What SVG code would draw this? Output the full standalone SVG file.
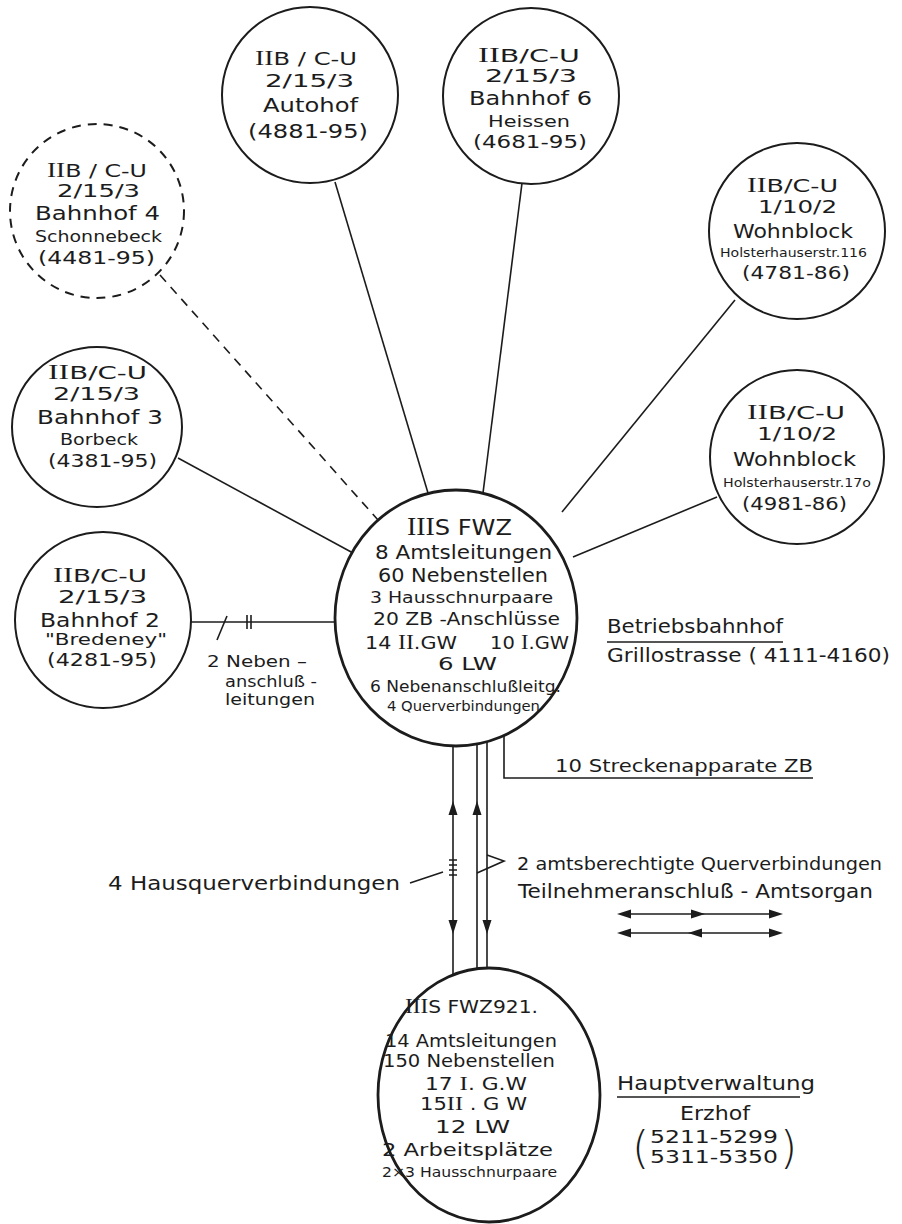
<svg xmlns="http://www.w3.org/2000/svg" width="902" height="1224" viewBox="0 0 902 1224">
<style>
text{font-family:"DejaVu Sans","Liberation Sans",sans-serif;fill:#1c1c1c;}
.r{font-family:"Liberation Serif",serif;font-size:1.15em;}
.n{fill:#fff;stroke:#1c1c1c;stroke-width:2;}
.big{fill:#fff;stroke:#1c1c1c;stroke-width:2.8;}
.ln{stroke:#1c1c1c;stroke-width:1.6;fill:none;}
.f18{font-size:17.5px;}
.f20{font-size:19px;}
.f21{font-size:20px;}
.f17{font-size:16px;}
.f16{font-size:15px;}
.f14{font-size:13px;}
</style>
<defs>
<path id="ah" d="M0,0 L-14,-4.5 L-14,4.5 Z" fill="#1c1c1c"/>
</defs>
<rect width="902" height="1224" fill="#fff"/>
<g id="connectors">
<line class="ln" x1="160" y1="275" x2="378" y2="520" stroke-dasharray="9,7"/>
<line class="ln" x1="335" y1="182" x2="428" y2="493"/>
<line class="ln" x1="522" y1="183" x2="483" y2="493"/>
<line class="ln" x1="735" y1="300" x2="562" y2="512"/>
<line class="ln" x1="717" y1="497" x2="573" y2="557"/>
<line class="ln" x1="178" y1="458" x2="353" y2="553"/>
<line class="ln" x1="191" y1="622" x2="336" y2="622"/>
<line class="ln" x1="227" y1="616" x2="217" y2="640"/>
<line class="ln" x1="247" y1="615" x2="247" y2="629"/>
<line class="ln" x1="251" y1="615" x2="251" y2="629"/>
<line class="ln" x1="453" y1="720" x2="453" y2="1000"/>
<line class="ln" x1="477" y1="720" x2="477" y2="1000"/>
<line class="ln" x1="487" y1="720" x2="487" y2="1000"/>
<path class="ln" d="M504,720 V778 H813"/>
<use href="#ah" transform="translate(453,801) rotate(-90)"/>
<use href="#ah" transform="translate(453,934) rotate(90)"/>
<use href="#ah" transform="translate(477,801) rotate(-90)"/>
<use href="#ah" transform="translate(487,934) rotate(90)"/>
<path class="ln" d="M449,860 H457 M449,865 H457 M449,870 H457 M449,875 H457"/>
<line class="ln" x1="410" y1="883" x2="443" y2="872" stroke-width="1.2"/>
<path class="ln" d="M487,855 L504,861 L477,873"/>
<line class="ln" x1="620" y1="914" x2="780" y2="914"/>
<line class="ln" x1="620" y1="933" x2="780" y2="933"/>
<use href="#ah" transform="translate(617,914) rotate(180)"/>
<use href="#ah" transform="translate(705,914)"/>
<use href="#ah" transform="translate(783,914)"/>
<use href="#ah" transform="translate(617,933) rotate(180)"/>
<use href="#ah" transform="translate(688,933) rotate(180)"/>
<use href="#ah" transform="translate(783,933)"/>
<line class="ln" x1="607" y1="642" x2="783" y2="642"/>
<line class="ln" x1="617" y1="1097" x2="800" y2="1097"/>
</g>
<g id="autohof">
<circle class="n" cx="310" cy="95" r="88"/>
<text class="f18" x="255" y="65" textLength="102" lengthAdjust="spacingAndGlyphs"><tspan class="r">II</tspan>B / C-U</text>
<text class="f18" x="265" y="87" textLength="89" lengthAdjust="spacingAndGlyphs">2/15/3</text>
<text class="f21" x="263" y="112" textLength="95" lengthAdjust="spacingAndGlyphs">Autohof</text>
<text class="f20" x="248" y="138" textLength="120" lengthAdjust="spacingAndGlyphs">(4881-95)</text>
</g>
<g id="bahnhof6">
<circle class="n" cx="531" cy="96" r="88"/>
<text class="f18" x="478" y="62" textLength="102" lengthAdjust="spacingAndGlyphs"><tspan class="r">II</tspan>B/C-U</text>
<text class="f18" x="485" y="82" textLength="92" lengthAdjust="spacingAndGlyphs">2/15/3</text>
<text class="f21" x="469" y="105" textLength="123" lengthAdjust="spacingAndGlyphs">Bahnhof 6</text>
<text class="f16" x="488" y="127" textLength="82" lengthAdjust="spacingAndGlyphs">Heissen</text>
<text class="f18" x="473" y="148" textLength="114" lengthAdjust="spacingAndGlyphs">(4681-95)</text>
</g>
<g id="bahnhof4">
<circle class="n" cx="97" cy="211" r="87" stroke-dasharray="9,7" stroke-width="1.6"/>
<text class="f18" x="47" y="177" textLength="100" lengthAdjust="spacingAndGlyphs"><tspan class="r">II</tspan>B / C-U</text>
<text class="f18" x="57" y="197" textLength="83" lengthAdjust="spacingAndGlyphs">2/15/3</text>
<text class="f21" x="35" y="220" textLength="125" lengthAdjust="spacingAndGlyphs">Bahnhof 4</text>
<text class="f16" x="35" y="242" textLength="127" lengthAdjust="spacingAndGlyphs">Schonnebeck</text>
<text class="f18" x="38" y="264" textLength="117" lengthAdjust="spacingAndGlyphs">(4481-95)</text>
</g>
<g id="wohnblock116">
<circle class="n" cx="797" cy="231" r="88"/>
<text class="f18" x="747" y="192" textLength="91" lengthAdjust="spacingAndGlyphs"><tspan class="r">II</tspan>B/C-U</text>
<text class="f18" x="758" y="213" textLength="79" lengthAdjust="spacingAndGlyphs">1/10/2</text>
<text class="f21" x="733" y="238" textLength="120" lengthAdjust="spacingAndGlyphs">Wohnblock</text>
<text class="f14" x="720" y="257" textLength="147" lengthAdjust="spacingAndGlyphs">Holsterhauserstr.116</text>
<text class="f18" x="742" y="279" textLength="108" lengthAdjust="spacingAndGlyphs">(4781-86)</text>
</g>
<g id="wohnblock17o">
<circle class="n" cx="797" cy="457" r="87"/>
<text class="f18" x="747" y="419" textLength="98" lengthAdjust="spacingAndGlyphs"><tspan class="r">II</tspan>B/C-U</text>
<text class="f18" x="757" y="440" textLength="80" lengthAdjust="spacingAndGlyphs">1/10/2</text>
<text class="f21" x="733" y="466" textLength="123" lengthAdjust="spacingAndGlyphs">Wohnblock</text>
<text class="f14" x="723" y="487" textLength="148" lengthAdjust="spacingAndGlyphs">Holsterhauserstr.17o</text>
<text class="f18" x="742" y="510" textLength="105" lengthAdjust="spacingAndGlyphs">(4981-86)</text>
</g>
<g id="bahnhof3">
<ellipse class="n" cx="97" cy="427" rx="85" ry="80"/>
<text class="f18" x="48" y="379" textLength="99" lengthAdjust="spacingAndGlyphs"><tspan class="r">II</tspan>B/C-U</text>
<text class="f18" x="53" y="400" textLength="87" lengthAdjust="spacingAndGlyphs">2/15/3</text>
<text class="f21" x="37" y="424" textLength="126" lengthAdjust="spacingAndGlyphs">Bahnhof 3</text>
<text class="f16" x="60" y="445" textLength="78" lengthAdjust="spacingAndGlyphs">Borbeck</text>
<text class="f18" x="48" y="467" textLength="109" lengthAdjust="spacingAndGlyphs">(4381-95)</text>
</g>
<g id="bahnhof2">
<circle class="n" cx="103" cy="620" r="88"/>
<text class="f18" x="53" y="582" textLength="94" lengthAdjust="spacingAndGlyphs"><tspan class="r">II</tspan>B/C-U</text>
<text class="f18" x="58" y="603" textLength="89" lengthAdjust="spacingAndGlyphs">2/15/3</text>
<text class="f21" x="40" y="627" textLength="120" lengthAdjust="spacingAndGlyphs">Bahnhof 2</text>
<text class="f16" x="45" y="645" textLength="122" lengthAdjust="spacingAndGlyphs">"Bredeney"</text>
<text class="f18" x="47" y="666" textLength="110" lengthAdjust="spacingAndGlyphs">(4281-95)</text>
</g>
<g id="fwz-betriebsbahnhof">
<ellipse class="big" cx="456" cy="618" rx="121" ry="128"/>
<text x="407" y="535" font-size="21" textLength="105" lengthAdjust="spacingAndGlyphs"><tspan class="r">III</tspan>S FWZ</text>
<text class="f20" x="375" y="559" textLength="177" lengthAdjust="spacingAndGlyphs">8 Amtsleitungen</text>
<text class="f20" x="378" y="582" textLength="170" lengthAdjust="spacingAndGlyphs">60 Nebenstellen</text>
<text class="f17" x="370" y="603" textLength="183" lengthAdjust="spacingAndGlyphs">3 Hausschnurpaare</text>
<text class="f18" x="373" y="625" textLength="187" lengthAdjust="spacingAndGlyphs">20 ZB -Anschlüsse</text>
<text class="f18" x="365" y="649" textLength="92" lengthAdjust="spacingAndGlyphs">14 <tspan class="r">II</tspan>.GW</text>
<text class="f18" x="490" y="649" textLength="79" lengthAdjust="spacingAndGlyphs">10 <tspan class="r">I</tspan>.GW</text>
<text class="f18" x="438" y="670" textLength="59" lengthAdjust="spacingAndGlyphs">6 LW</text>
<text class="f16" x="370" y="692" textLength="191" lengthAdjust="spacingAndGlyphs">6 Nebenanschlußleitg.</text>
<text x="387" y="711" font-size="13.5" textLength="153" lengthAdjust="spacingAndGlyphs">4 Querverbindungen</text>
</g>
<g id="fwz921">
<ellipse class="big" cx="489" cy="1095" rx="111" ry="127"/>
<text x="405" y="1013" font-size="18" textLength="133" lengthAdjust="spacingAndGlyphs"><tspan class="r">III</tspan>S FWZ921.</text>
<text x="385" y="1047" font-size="17" textLength="172" lengthAdjust="spacingAndGlyphs">14 Amtsleitungen</text>
<text x="383" y="1067" font-size="17" textLength="172" lengthAdjust="spacingAndGlyphs">150 Nebenstellen</text>
<text x="425" y="1090" font-size="17" textLength="102" lengthAdjust="spacingAndGlyphs">17 <tspan class="r">I</tspan>. G.W</text>
<text x="420" y="1110" font-size="17" textLength="107" lengthAdjust="spacingAndGlyphs">15<tspan class="r">II</tspan> . G W</text>
<text x="435" y="1133" font-size="17.5" textLength="75" lengthAdjust="spacingAndGlyphs">12 LW</text>
<text x="382" y="1156" font-size="17.5" textLength="171" lengthAdjust="spacingAndGlyphs">2 Arbeitsplätze</text>
<text x="382" y="1177" font-size="14.5" textLength="175" lengthAdjust="spacingAndGlyphs">2×3 Hausschnurpaare</text>
</g>
<g id="labels">
<text x="207" y="667" font-size="16.5" textLength="100" lengthAdjust="spacingAndGlyphs">2 Neben –</text>
<text x="225" y="687" font-size="16" textLength="92" lengthAdjust="spacingAndGlyphs">anschluß -</text>
<text x="225" y="705" font-size="16" textLength="90" lengthAdjust="spacingAndGlyphs">leitungen</text>
<text x="607" y="633" font-size="20" textLength="176" lengthAdjust="spacingAndGlyphs">Betriebsbahnhof</text>
<text x="607" y="662" font-size="19" textLength="283" lengthAdjust="spacingAndGlyphs">Grillostrasse ( 4111-4160)</text>
<text x="555" y="772" font-size="17" textLength="258" lengthAdjust="spacingAndGlyphs">10 Streckenapparate ZB</text>
<text x="517" y="870" font-size="18" textLength="365" lengthAdjust="spacingAndGlyphs">2 amtsberechtigte Querverbindungen</text>
<text x="518" y="898" font-size="19" textLength="355" lengthAdjust="spacingAndGlyphs">Teilnehmeranschluß - Amtsorgan</text>
<text x="108" y="890" font-size="20" textLength="292" lengthAdjust="spacingAndGlyphs">4 Hausquerverbindungen</text>
<text x="617" y="1090" font-size="20" textLength="198" lengthAdjust="spacingAndGlyphs">Hauptverwaltung</text>
<text x="680" y="1120" font-size="20" textLength="70" lengthAdjust="spacingAndGlyphs">Erzhof</text>
<text x="632" y="1163" font-size="44" font-weight="100">(</text>
<text x="650" y="1143" font-size="18" textLength="128" lengthAdjust="spacingAndGlyphs">5211-5299</text>
<text x="650" y="1163" font-size="18" textLength="128" lengthAdjust="spacingAndGlyphs">5311-5350</text>
<text x="780" y="1163" font-size="44" font-weight="100">)</text>
</g>
</svg>
